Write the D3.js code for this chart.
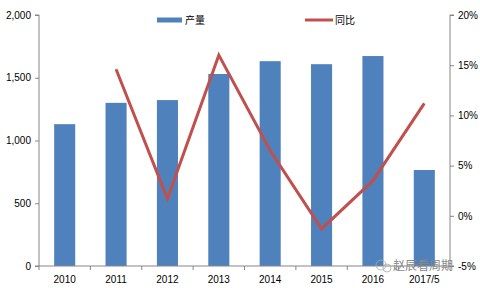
<!DOCTYPE html>
<html>
<head>
<meta charset="utf-8">
<script src="https://cdn.jsdelivr.net/npm/d3@7"></script>
<style>
  body { margin: 0; background: #fff; }
  svg { font-family: "Liberation Sans", Arial, sans-serif; }
  .axis text { font-size: 10px; fill: #000; }
  .axis path, .axis line { stroke: #868686; }
  .legend-text { font-size: 10px; font-family: "Noto Sans CJK SC", sans-serif; }
</style>
</head>
<body>
<div id="chart"></div>
<script>
// Chart data
const categories = ["2010", "2011", "2012", "2013", "2014", "2015", "2016", "2017/5"];
const output = [1130, 1300, 1322, 1530, 1632, 1608, 1673, 765];
const yoy = [null, 14.6, 1.7, 16.0, 6.5, -1.3, 3.5, 11.2];
const leftTicks = [0, 500, 1000, 1500, 2000];
const rightTicks = [-5, 0, 5, 10, 15, 20];

const width_raw = 480, height_raw = 288;
const margin = {top: 15, right: 30, bottom: 22, left: 39};
let width = width_raw - margin.left - margin.right,
    height = height_raw - margin.top - margin.bottom;

let svg = d3.select("#chart")
    .append("svg")
    .attr("width", width_raw)
    .attr("height", height_raw)
    .append("g")
    .attr("transform", `translate(${margin.left}, ${margin.top})`);

// Scales
let xScale = d3.scaleBand()
    .domain(categories)
    .range([0, width])
    .paddingInner(0.59)
    .paddingOuter(0.295);

let bandScale = d3.scaleBand()
    .domain(categories)
    .range([0, width]);

let leftScale = d3.scaleLinear()
    .domain([0, 2000])
    .range([height, 0]);

let rightScale = d3.scaleLinear()
    .domain([-5, 20])
    .range([height, 0]);

// Bars
svg.selectAll(".bar")
    .data(output)
    .enter()
    .append("rect")
    .attr("class", "bar")
    .attr("x", (d, i) => xScale(categories[i]))
    .attr("y", d => leftScale(d))
    .attr("width", xScale.bandwidth())
    .attr("height", d => height - leftScale(d))
    .attr("fill", "#4F81BD");

// Line
let line = d3.line()
    .defined(d => d !== null)
    .x((d, i) => bandScale(categories[i]) + bandScale.bandwidth() / 2)
    .y(d => rightScale(d));

svg.append("path")
    .datum(yoy)
    .attr("d", line)
    .attr("fill", "none")
    .attr("stroke", "#C0504D")
    .attr("stroke-width", 3);

// Left axis
svg.append("g")
    .attr("class", "axis")
    .call(d3.axisLeft(leftScale).tickValues(leftTicks).tickSize(4).tickPadding(4)
        .tickFormat(d3.format(",")))
    .call(g => g.select(".domain").attr("d", `M-4,0H0V${height}H-4`));

// Right axis
svg.append("g")
    .attr("class", "axis")
    .attr("transform", `translate(${width},0)`)
    .call(d3.axisRight(rightScale).tickValues(rightTicks).tickSize(4).tickPadding(4)
        .tickFormat(d => d + "%"))
    .call(g => g.select(".domain").attr("d", `M4,0H0V${height}H4`));

// Bottom axis with ticks at category boundaries
let xGroup = svg.append("g")
    .attr("class", "axis")
    .attr("transform", `translate(0, ${height})`)
    .call(d3.axisBottom(bandScale).tickSize(0).tickPadding(10));
xGroup.select(".domain").attr("d", `M0,0H${width}`);
xGroup.selectAll(".bound")
    .data(d3.range(categories.length + 1))
    .enter()
    .append("line")
    .attr("class", "bound")
    .attr("x1", i => i * bandScale.step())
    .attr("x2", i => i * bandScale.step())
    .attr("y1", 0)
    .attr("y2", 4);

// Legend
let legend = svg.append("g").attr("transform", "translate(118, 5)");
legend.append("rect")
    .attr("x", 0).attr("y", -2.5)
    .attr("width", 25).attr("height", 5)
    .attr("fill", "#4F81BD");
legend.append("text")
    .attr("class", "legend-text")
    .attr("x", 28).attr("y", 3.5)
    .text("产量");
legend.append("line")
    .attr("x1", 148).attr("x2", 176)
    .attr("y1", 0).attr("y2", 0)
    .attr("stroke", "#C0504D")
    .attr("stroke-width", 3);
legend.append("text")
    .attr("class", "legend-text")
    .attr("x", 178).attr("y", 3.5)
    .text("同比");

// Watermark (small icon + text)
let mark = svg.append("g").attr("transform", `translate(${376 - margin.left}, ${265 - margin.top})`);
mark.append("circle")
    .attr("cx", 5).attr("cy", 0).attr("r", 5)
    .attr("fill", "none").attr("stroke", "#aaa").attr("stroke-width", 0.8);
mark.append("circle")
    .attr("cx", 11).attr("cy", 3).attr("r", 4)
    .attr("fill", "none").attr("stroke", "#aaa").attr("stroke-width", 0.8);
mark.append("text")
    .attr("x", 17)
    .attr("y", 5)
    .attr("fill", "#888")
    .style("font-family", "Noto Sans CJK SC")
    .style("font-size", "12px")
    .text("赵辰看周期");
</script>
</body>
</html>
